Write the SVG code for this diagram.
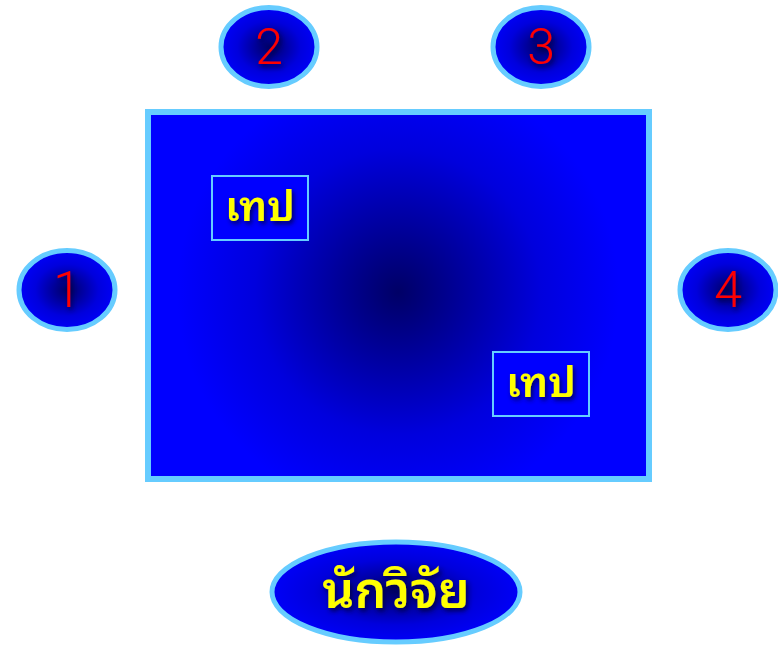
<svg xmlns="http://www.w3.org/2000/svg" width="778" height="646" viewBox="0 0 778 646">
<style>
.oval{stroke:#66CCFF;stroke-width:5;fill:url(#rg)}
.num{font-family:Roboto,"Liberation Sans",sans-serif;font-weight:300;font-size:50px;fill:#FF0000;text-anchor:middle;filter:url(#sh)}
.thai{font-family:"Noto Sans Thai Looped","Noto Serif Thai","Loma","Garuda","Noto Sans Thai","Noto Sans",sans-serif;font-weight:600;fill:#FFFF00;text-anchor:middle;filter:url(#sh)}
.box{fill:#0000FF;stroke:#66CCFF;stroke-width:2}
</style>
<defs>
<radialGradient id="rg" cx="0.5" cy="0.5" r="0.55">
<stop offset="0" stop-color="#000066"/>
<stop offset="0.6" stop-color="#0000DD"/>
<stop offset="1" stop-color="#0000FF"/>
</radialGradient>
<radialGradient id="rgBig" gradientUnits="userSpaceOnUse" cx="398" cy="292" r="260">
<stop offset="0" stop-color="#000066"/>
<stop offset="0.55" stop-color="#0000DD"/>
<stop offset="0.85" stop-color="#0000FF"/>
</radialGradient>
<filter id="sh" x="-20%" y="-20%" width="150%" height="150%">
<feDropShadow dx="2" dy="3" stdDeviation="2.5" flood-color="#000033" flood-opacity="0.8"/>
</filter>
</defs>
<g id="connectors"/>
<g id="board">
<rect x="148" y="112" width="501" height="367" fill="url(#rgBig)" stroke="#66CCFF" stroke-width="6"/>
</g>
<g id="tape1">
<rect class="box" x="212" y="176" width="96" height="64"/>
<text class="thai" x="260" y="221" font-size="42">เทป</text>
</g>
<g id="tape2">
<rect class="box" x="493" y="352" width="96" height="64"/>
<text class="thai" x="541" y="397" font-size="42">เทป</text>
</g>
<g id="seat2">
<ellipse class="oval" cx="269" cy="47" rx="48" ry="39.5"/>
<text class="num" x="269" y="64">2</text>
</g>
<g id="seat3">
<ellipse class="oval" cx="541" cy="47" rx="48" ry="39.5"/>
<text class="num" x="541" y="64">3</text>
</g>
<g id="seat1">
<ellipse class="oval" cx="67" cy="290" rx="48" ry="39.5"/>
<text class="num" x="67" y="307">1</text>
</g>
<g id="seat4">
<ellipse class="oval" cx="728" cy="290" rx="48" ry="39.5"/>
<text class="num" x="728" y="307">4</text>
</g>
<g id="researcher">
<ellipse class="oval" cx="396" cy="592" rx="124" ry="50"/>
<text class="thai" x="396" y="608" font-size="50">นักวิจัย</text>
</g>
</svg>
